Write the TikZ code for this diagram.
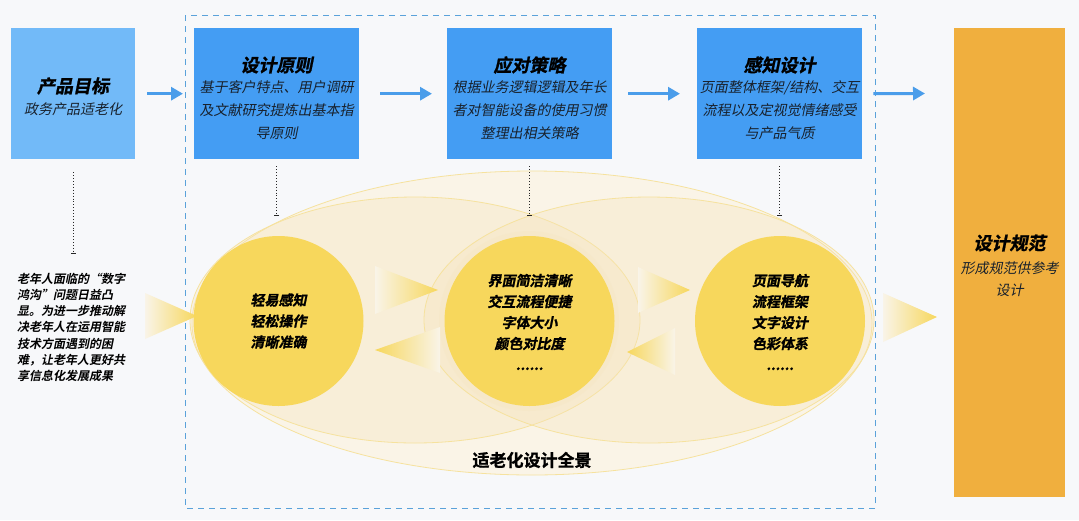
\documentclass[tikz,border=0pt]{standalone}
\usepackage{fontspec}
\newfontfamily\cjk[AutoFakeSlant=0.2]{Noto Sans CJK SC}
\newfontfamily\cjkb[FakeSlant=0.2]{Noto Sans CJK SC Bold}
\newfontfamily\cjkh[FakeSlant=0.2,FakeBold=1.2]{Noto Sans CJK SC Bold}
\newfontfamily\cjkbu[FakeBold=1]{Noto Sans CJK SC Bold}
\usetikzlibrary{arrows.meta,shapes.geometric}
\definecolor{bg}{HTML}{F7F8FA}
\definecolor{lightblue}{HTML}{72BAF8}
\definecolor{boxblue}{HTML}{449DF3}
\definecolor{arrowblue}{HTML}{4A9DEA}
\definecolor{framec}{HTML}{5AA2DA}
\definecolor{orangec}{HTML}{F0AF3E}
\definecolor{yellowc}{HTML}{F7D75C}
\definecolor{paleout}{HTML}{FCF3DF}
\definecolor{palein}{HTML}{F6E3B8}
\definecolor{palestroke}{HTML}{F6E29E}
\definecolor{fadec}{HTML}{F9F4E8}
\definecolor{darktext}{HTML}{18212C}
\tikzset{
  box/.style={rectangle,inner sep=0pt,draw=none,anchor=north west},
  ttl/.style={font=\cjkh\fontsize{18}{22}\selectfont,text=black,inner sep=0pt},
  bodytxt/.style={font=\cjk\itshape\fontsize{14}{23}\selectfont,text=darktext,align=center,inner sep=0pt},
  circtxt/.style={font=\cjkh\fontsize{14}{21}\selectfont,text=black,align=center,inner sep=0pt},
  flowarrow/.style={draw=arrowblue,line width=3pt,-{Triangle[length=12pt,width=13pt]}},
  dotline/.style={draw=black!85,dotted,line width=0.9pt,-{Bar[width=5pt,line width=0.8pt]}},
  yc/.style={circle,fill=yellowc,draw=none,minimum size=170pt,inner sep=0pt},
}
\begin{document}
\begin{tikzpicture}[x=1pt,y=-1pt]
\useasboundingbox (0,0) rectangle (1079,520);
\fill[bg] (0,0) rectangle (1079,520);

% dashed frame
\draw[framec,line width=1pt,dash pattern=on 6pt off 5pt] (185,15) rectangle (875,508);

% pale ellipses
\draw[palestroke,line width=0.8pt,fill=paleout,fill opacity=0.7] (532,323) ellipse [x radius=340,y radius=152];
\draw[palestroke,line width=0.8pt,fill=palein,fill opacity=0.3] (415,320) ellipse [x radius=225,y radius=123];
\draw[palestroke,line width=0.8pt,fill=palein,fill opacity=0.3] (649,320) ellipse [x radius=225,y radius=123];
\fill[palein,opacity=0.2] (529,321) circle [radius=90];

% gradient triangles
\shade[left color=fadec,right color=yellowc] (145,293) -- (197,316) -- (145,339) -- cycle;
\shade[left color=fadec,right color=yellowc] (375,266) -- (438,290) -- (375,314) -- cycle;
\shade[left color=yellowc,right color=fadec] (375,350) -- (440,327) -- (440,373) -- cycle;
\shade[left color=fadec,right color=yellowc] (638,267) -- (690,290) -- (638,313) -- cycle;
\shade[left color=yellowc,right color=fadec] (627,352) -- (675,328) -- (675,375) -- cycle;
\shade[left color=fadec,right color=yellowc] (883,293) -- (937,317) -- (883,342) -- cycle;

% boxes
\node[box,fill=lightblue,minimum width=124pt,minimum height=131pt] (b1) at (11,28) {};
\node[box,fill=boxblue,minimum width=165pt,minimum height=131pt] (b2) at (194,28) {};
\node[box,fill=boxblue,minimum width=165pt,minimum height=131pt] (b3) at (447,28) {};
\node[box,fill=boxblue,minimum width=165pt,minimum height=131pt] (b4) at (697,28) {};
\node[box,fill=orangec,minimum width=111pt,minimum height=469pt] (b5) at (954,28) {};

% box texts
\node[ttl] (t1) at (73,86) {产品目标};
\node[bodytxt] (d1) at (73,109) {政务产品适老化};
\node[ttl] (t2) at (276.5,65) {设计原则};
\node[bodytxt] (d2) at (276.5,110) {基于客户特点、用户调研\\及文献研究提炼出基本指\\导原则};
\node[ttl] (t3) at (529.5,65) {应对策略};
\node[bodytxt] (d3) at (529.5,110) {根据业务逻辑逻辑及年长\\者对智能设备的使用习惯\\整理出相关策略};
\node[ttl] (t4) at (779.5,65) {感知设计};
\node[bodytxt] (d4) at (779.5,110) {页面整体框架/结构、交互\\流程以及定视觉情绪感受\\与产品气质};
\node[ttl] (t5) at (1009.5,243) {设计规范};
\node[bodytxt,font=\cjk\itshape\fontsize{14}{22}\selectfont] (d5) at (1009.5,279) {形成规范供参考\\设计};

% flow arrows
\draw[flowarrow] ([xshift=12pt]b1.east) -- ([xshift=-11pt]b2.west);
\draw[flowarrow] ([xshift=21pt]b2.east) -- ([xshift=-15pt]b3.west);
\draw[flowarrow] ([xshift=16pt]b3.east) -- ([xshift=-17pt]b4.west);
\coordinate (a4end) at (925,93.5);
\draw[flowarrow] ([xshift=11pt]b4.east) -- (a4end);

% circles
\node[yc] (c1) at (278.5,321) {};
\node[yc] (c2) at (529.5,321) {};
\node[yc] (c3) at (780,321) {};
\node[circtxt] (ct1) at (c1) {轻易感知\\轻松操作\\清晰准确};
\node[circtxt] (ct2) at (529.5,322) {界面简洁清晰\\交互流程便捷\\字体大小\\颜色对比度\\......};
\node[circtxt] (ct3) at (780,322) {页面导航\\流程框架\\文字设计\\色彩体系\\......};

% left text
\node[font=\cjkb\fontsize{12}{16.3}\selectfont,text=black,align=left,inner sep=0pt,anchor=north west] (lt) at (17,272.5) {老年人面临的“数字\\鸿沟”问题日益凸\\显。为进一步推动解\\决老年人在运用智能\\技术方面遇到的困\\难，让老年人更好共\\享信息化发展成果};

% dotted connectors
\draw[dotline] ([yshift=-13pt]b1.south) -- ([yshift=19pt]b1.south |- lt.north);
\draw[dotline] ([yshift=-7pt]b2.south) -- ([yshift=20pt]b2.south |- c1.north);
\draw[dotline] ([yshift=-7pt]b3.south) -- ([yshift=20pt]b3.south |- c2.north);
\draw[dotline] ([yshift=-7pt]b4.south) -- ([yshift=20pt]b4.south |- c3.north);

% bottom label
\node[font=\cjkbu\fontsize{17}{20}\selectfont,text=black,inner sep=0pt] (lbl) at (532,460) {适老化设计全景};
\end{tikzpicture}
\end{document}
